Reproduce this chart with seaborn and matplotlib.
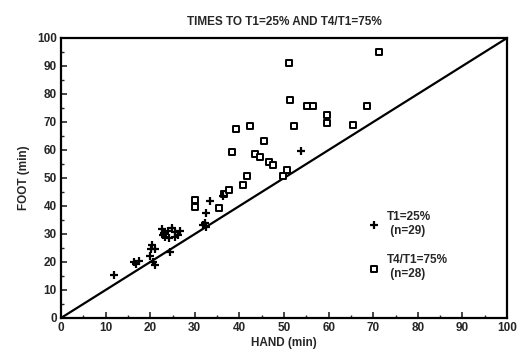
import matplotlib
matplotlib.use("Agg")
import matplotlib.pyplot as plt
import numpy as np
import pandas as pd
import seaborn as sns
from matplotlib.ticker import MultipleLocator

# T1 = 25% (plus markers)
hand_t1 = [11.9, 16.4, 17.4, 16.9, 20.2, 21.0, 20.4, 20.7, 21.1, 22.6, 23.0, 24.0,
           24.8, 25.6, 26.6, 23.4, 24.3, 25.5, 26.2, 24.5, 31.9, 32.6, 32.2, 32.6,
           33.4, 36.4, 53.7, 22.8, 19.9]
foot_t1 = [15.4, 20.0, 20.4, 19.2, 24.5, 24.5, 26.0, 20.1, 18.8, 31.8, 30.3, 31.2,
           32.3, 30.8, 30.9, 29.0, 28.4, 28.9, 29.8, 23.6, 33.3, 32.4, 34.0, 37.5,
           41.8, 43.5, 59.7, 29.6, 22.0]

# T4/T1 = 75% (open squares)
hand_t4 = [30.0, 30.0, 35.5, 36.5, 37.7, 40.7, 41.7, 38.4, 39.2, 42.3, 43.6, 44.6,
           45.5, 46.6, 47.6, 49.7, 50.6, 51.2, 51.3, 52.3, 55.2, 56.4, 59.6, 59.6,
           65.5, 68.5, 71.3]
foot_t4 = [42.1, 39.8, 39.3, 44.2, 45.6, 47.4, 50.6, 59.4, 67.5, 68.7, 58.6, 57.4,
           63.3, 55.6, 54.8, 50.7, 52.8, 91.0, 77.7, 68.6, 75.8, 75.8, 72.5, 69.8,
           68.9, 75.8, 94.9]

label_t1 = "T1=25%\n (n=29)"
label_t4 = "T4/T1=75%\n (n=28)"
ticks = list(range(0, 101, 10))

sns.set_style("ticks")
plt.rcParams["font.family"] = ["Liberation Sans", "DejaVu Sans"]
plt.rcParams["font.weight"] = "bold"

df_t1 = pd.DataFrame({"hand": hand_t1, "foot": foot_t1})
df_t4 = pd.DataFrame({"hand": hand_t4, "foot": foot_t4})

fig = plt.figure(figsize=(5.19, 3.54), dpi=100)
ax = fig.add_axes([0.1175, 0.1017, 0.8595, 0.791])

# identity line
ax.plot([0, 100], [0, 100], color="black", linewidth=1.6, zorder=1)

sns.scatterplot(data=df_t1, x="hand", y="foot", marker="+", s=40, color="black",
                linewidth=1.6, label=label_t1, ax=ax, zorder=3)
sns.scatterplot(data=df_t4, x="hand", y="foot", marker="s", s=24, facecolor="white",
                edgecolor="black", linewidth=1.4, label=label_t4, ax=ax, zorder=2)

ax.set_xlim(0, 100)
ax.set_ylim(0, 100)
ax.set_xticks(ticks)
ax.set_yticks(ticks)
ax.xaxis.set_minor_locator(MultipleLocator(5))
ax.yaxis.set_minor_locator(MultipleLocator(5))
ax.tick_params(which="major", direction="in", length=4, width=1.2, labelsize=8.5, pad=3)
ax.tick_params(which="minor", direction="in", length=2.5, width=1.0)
for lab in ax.get_xticklabels() + ax.get_yticklabels():
    lab.set_fontweight("bold")

for side in ["left", "bottom", "right", "top"]:
    ax.spines[side].set_visible(True)
    ax.spines[side].set_linewidth(1.6)
    ax.spines[side].set_color("black")

ax.set_title("TIMES TO T1=25% AND T4/T1=75%", fontsize=8.5, fontweight="bold", pad=9)
ax.set_xlabel("HAND (min)", fontsize=8.5, fontweight="bold", labelpad=2)
ax.set_ylabel("FOOT (min)", fontsize=8.5, fontweight="bold", labelpad=5)

leg = ax.legend(loc="upper left", bbox_to_anchor=(0.665, 0.40), frameon=False,
                fontsize=8.5, handletextpad=0.05, labelspacing=1.5, borderaxespad=0)
for t in leg.get_texts():
    t.set_fontweight("bold")

fig.savefig("out.png", dpi=100)
